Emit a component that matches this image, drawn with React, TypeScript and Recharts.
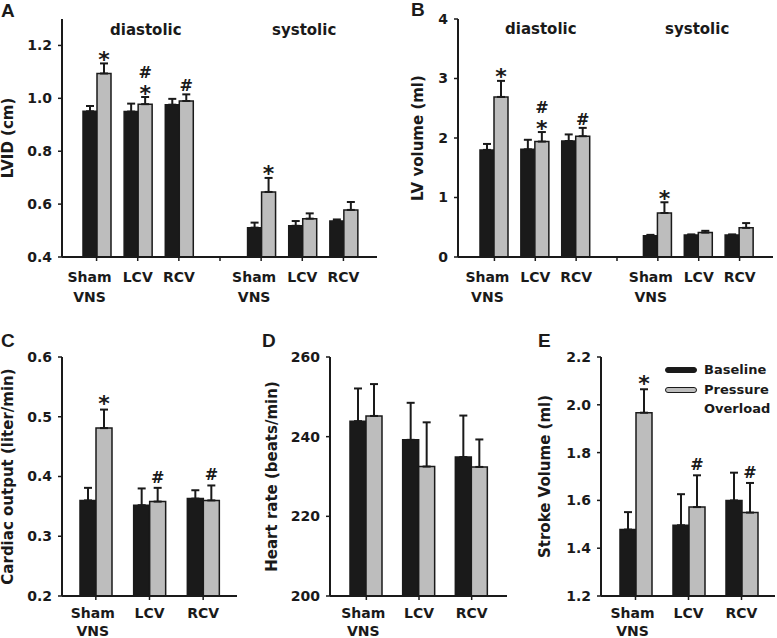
import { BarChart, Bar, XAxis, YAxis, ErrorBar, LabelList, Legend } from "recharts";

const FONT = '"DejaVu Sans", Verdana, sans-serif';
const LETTER_FONT = '"Liberation Sans", Arial, sans-serif';
const INK = "#1a1a1a";
const GREY = "#bdbdbd";

// A & B: diastolic groups | empty slot | systolic groups
const echoGroups = ["Sham", "LCV", "RCV", "", "Sham", "LCV", "RCV"];
const echoSub = ["VNS", "", "", "", "VNS", "", ""];
const hemoGroups = ["Sham", "LCV", "RCV"];
const hemoSub = ["VNS", "", ""];

// A: LVID (cm)
const lvidBase = [0.951, 0.95, 0.976, null, 0.511, 0.518, 0.536];
const lvidBaseErr = [0.02, 0.03, 0.022, null, 0.019, 0.018, 0.006];
const lvidPO = [1.094, 0.978, 0.99, null, 0.646, 0.545, 0.578];
const lvidPOErr = [0.038, 0.027, 0.025, null, 0.053, 0.02, 0.03];
const lvidMarks = ["*", "#*", "#", "", "*", "", ""];

// B: LV volume (ml)
const volBase = [1.8, 1.81, 1.95, null, 0.357, 0.37, 0.37];
const volBaseErr = [0.1, 0.16, 0.11, null, 0.015, 0.01, 0.01];
const volPO = [2.69, 1.94, 2.03, null, 0.74, 0.41, 0.49];
const volPOErr = [0.27, 0.16, 0.14, null, 0.18, 0.03, 0.08];
const volMarks = ["*", "#*", "#", "", "*", "", ""];

// C: cardiac output (liter/min)
const coBase = [0.36, 0.352, 0.363];
const coBaseErr = [0.021, 0.028, 0.014];
const coPO = [0.481, 0.358, 0.36];
const coPOErr = [0.031, 0.023, 0.025];
const coMarks = ["*", "#", "#"];

// D: heart rate (beats/min)
const hrBase = [243.9, 239.2, 234.9];
const hrBaseErr = [8.2, 9.3, 10.4];
const hrPO = [245.2, 232.5, 232.4];
const hrPOErr = [8.0, 11.1, 6.9];
const hrMarks = ["", "", ""];

// E: stroke volume (ml)
const svBase = [1.478, 1.496, 1.6];
const svBaseErr = [0.073, 0.13, 0.116];
const svPO = [1.967, 1.572, 1.549];
const svPOErr = [0.098, 0.133, 0.124];
const svMarks = ["*", "#", "#"];

type Row = {
  name: string;
  base: number | null;
  baseErr: number[] | null;
  po: number | null;
  poErr: number[] | null;
  mark: string;
};

function buildRows(names: string[], base: any[], baseErr: any[], po: any[], poErr: any[], marks: string[]): Row[] {
  return names.map((name, i) => ({
    name,
    base: base[i],
    baseErr: base[i] == null ? null : [0, baseErr[i]],
    po: po[i],
    poErr: po[i] == null ? null : [0, poErr[i]],
    mark: marks[i],
  }));
}

function GroupTick(props: any) {
  const { x, y, payload, index, sub, shamShift, nameDy, subDy } = props;
  const label = payload?.value ?? "";
  const dx = label === "Sham" ? shamShift : 0;
  return (
    <g>
      <text x={x + dx} y={y + nameDy} textAnchor="middle" fontFamily={FONT} fontWeight={700} fontSize={14} fill={INK}>
        {label}
      </text>
      {sub[index] ? (
        <text x={x + dx} y={y + subDy} textAnchor="middle" fontFamily={FONT} fontWeight={700} fontSize={14} fill={INK}>
          {sub[index]}
        </text>
      ) : null}
    </g>
  );
}

// significance marks sit above the error bar cap of the pressure-overload bar
function markContent(rows: Row[], min: number, lift: number) {
  const shown = rows.filter((r) => r.po != null);
  return (props: any) => {
    const v = props.value;
    const row: Row | undefined = v && typeof v === "object" ? v : shown[props.index];
    if (!row || !row.mark || row.po == null || !row.poErr) return null;
    const vb = props.viewBox ?? props;
    const { x, y, width, height } = vb;
    const per = Math.abs(height) / (row.po - min);
    const capY = y - row.poErr[1] * per - lift;
    const cx = x + width / 2;
    const glyphs = row.mark.split("");
    const out: any[] = [];
    let base = capY;
    for (let i = glyphs.length - 1; i >= 0; i--) {
      const g = glyphs[i];
      out.push(
        <text
          key={i}
          x={cx}
          y={g === "*" ? base + 3.5 : base - 3}
          textAnchor="middle"
          fontFamily={FONT}
          fontWeight={700}
          fontSize={g === "*" ? 22 : 16}
          fill={INK}
        >
          {g}
        </text>
      );
      base -= 16;
    }
    return <g>{out}</g>;
  };
}

function LegendBox(props: any) {
  const payload = props.payload || [];
  return (
    <div style={{ fontFamily: FONT, fontWeight: 700, fontSize: 13, color: INK, lineHeight: "19px" }}>
      {payload.map((p: any) => (
        <div key={p.value} style={{ display: "flex", alignItems: "flex-start", marginBottom: 1 }}>
          <span
            style={{
              display: "inline-block",
              width: 32,
              height: 6,
              marginTop: 7,
              borderRadius: 3,
              background: p.color,
              border: `1.5px solid ${INK}`,
              boxSizing: "border-box",
            }}
          />
          <span style={{ marginLeft: 7 }}>
            {String(p.value)
              .split(" ")
              .map((w) => (
                <div key={w}>{w}</div>
              ))}
          </span>
        </div>
      ))}
    </div>
  );
}

type PanelProps = {
  rows: Row[];
  sub: string[];
  left: number;
  top: number;
  width: number;
  height: number;
  margin: { top: number; right: number; bottom: number; left: number };
  xHeight: number;
  yWidth: number;
  domain: [number, number];
  ticks: number[];
  digits: number;
  yLabel: string;
  yLabelX: number;
  barSize: number;
  pad: { left: number; right: number };
  shamShift: number;
  nameDy: number;
  subDy: number;
  lift: number;
  legend?: boolean;
};

function Panel(p: PanelProps) {
  const axisLine = { stroke: INK, strokeWidth: 2 };
  return (
    <div style={{ position: "absolute", left: p.left, top: p.top }}>
      <BarChart width={p.width} height={p.height} data={p.rows} margin={p.margin} barGap={0} barSize={p.barSize}>
        <XAxis
          dataKey="name"
          interval={0}
          height={p.xHeight}
          padding={p.pad}
          tickSize={4}
          tickLine={{ stroke: INK, strokeWidth: 1.5 }}
          axisLine={axisLine}
          tick={(t: any) => (
            <GroupTick {...t} sub={p.sub} shamShift={p.shamShift} nameDy={p.nameDy} subDy={p.subDy} />
          )}
        />
        <XAxis xAxisId="top" dataKey="name" orientation="top" height={0} tick={false} tickLine={false} axisLine={axisLine} />
        <YAxis
          type="number"
          domain={p.domain}
          ticks={p.ticks}
          allowDataOverflow
          width={p.yWidth}
          tickSize={4}
          tickMargin={6}
          tickLine={{ stroke: INK, strokeWidth: 1.5 }}
          axisLine={axisLine}
          tickFormatter={(v: number) => v.toFixed(p.digits)}
          tick={{ fill: INK, fontFamily: FONT, fontWeight: 700, fontSize: 14 }}
          label={(lp: any) => {
            const vb = lp.viewBox || {};
            const cy = vb.y + vb.height / 2;
            return (
              <text
                x={p.yLabelX}
                y={cy}
                transform={`rotate(-90, ${p.yLabelX}, ${cy})`}
                textAnchor="middle"
                dominantBaseline="central"
                fontFamily={FONT}
                fontWeight={700}
                fontSize={15}
                fill={INK}
              >
                {p.yLabel}
              </text>
            );
          }}
        />
        <YAxis yAxisId="right" orientation="right" type="number" domain={p.domain} width={0} tick={false} tickLine={false} axisLine={axisLine} />
        <Bar dataKey="base" name="Baseline" fill={INK} stroke={INK} strokeWidth={1.5} isAnimationActive={false}>
          <ErrorBar dataKey="baseErr" direction="y" width={4} stroke={INK} strokeWidth={2} />
        </Bar>
        <Bar dataKey="po" name="Pressure Overload" fill={GREY} stroke={INK} strokeWidth={1.5} isAnimationActive={false}>
          <ErrorBar dataKey="poErr" direction="y" width={4} stroke={INK} strokeWidth={2} />
          <LabelList dataKey={(r: Row) => r as any} content={markContent(p.rows, p.domain[0], p.lift)} />
        </Bar>
        {p.legend ? (
          <Legend
            layout="vertical"
            align="center"
            verticalAlign="middle"
            content={<LegendBox />}
            wrapperStyle={{ left: 148, top: 30, width: "auto" }}
          />
        ) : null}
      </BarChart>
    </div>
  );
}

const lvidRows = buildRows(echoGroups, lvidBase, lvidBaseErr, lvidPO, lvidPOErr, lvidMarks);
const volRows = buildRows(echoGroups, volBase, volBaseErr, volPO, volPOErr, volMarks);
const coRows = buildRows(hemoGroups, coBase, coBaseErr, coPO, coPOErr, coMarks);
const hrRows = buildRows(hemoGroups, hrBase, hrBaseErr, hrPO, hrPOErr, hrMarks);
const svRows = buildRows(hemoGroups, svBase, svBaseErr, svPO, svPOErr, svMarks);

const txt = (x: number, y: number, s: string, size = 15, family = FONT) => (
  <div
    style={{
      position: "absolute",
      left: x,
      top: y,
      fontFamily: family,
      fontWeight: 700,
      fontSize: size,
      color: INK,
      lineHeight: 1,
      whiteSpace: "nowrap",
    }}
  >
    {s}
  </div>
);

export default function App() {
  return (
    <div style={{ position: "absolute", left: 0, top: 0, width: 777, height: 638, background: "#fff", overflow: "hidden" }}>
      <Panel
        rows={lvidRows}
        sub={echoSub}
        left={0}
        top={0}
        width={390}
        height={320}
        margin={{ top: 19, right: 13, bottom: 3, left: 0 }}
        xHeight={60}
        yWidth={62}
        domain={[0.4, 1.3]}
        ticks={[0.4, 0.6, 0.8, 1.0, 1.2]}
        digits={1}
        yLabel="LVID (cm)"
        yLabelX={8}
        barSize={14}
        pad={{ left: 14, right: 13 }}
        shamShift={-7}
        nameDy={18.5}
        subDy={39}
        lift={0}
      />
      <Panel
        rows={volRows}
        sub={echoSub}
        left={390}
        top={0}
        width={387}
        height={320}
        margin={{ top: 19, right: 4, bottom: 3, left: 0 }}
        xHeight={60}
        yWidth={68}
        domain={[0, 4]}
        ticks={[0, 1, 2, 3, 4]}
        digits={0}
        yLabel="LV volume (ml)"
        yLabelX={28}
        barSize={14}
        pad={{ left: 16, right: 13 }}
        shamShift={-7}
        nameDy={18.5}
        subDy={39}
        lift={0}
      />
      <Panel
        rows={coRows}
        sub={hemoSub}
        left={0}
        top={330}
        width={260}
        height={308}
        margin={{ top: 27, right: 23, bottom: 0, left: 0 }}
        xHeight={42}
        yWidth={62}
        domain={[0.2, 0.6]}
        ticks={[0.2, 0.3, 0.4, 0.5, 0.6]}
        digits={1}
        yLabel="Cardiac output (liter/min)"
        yLabelX={8}
        barSize={16}
        pad={{ left: 7, right: 7 }}
        shamShift={-3}
        nameDy={16}
        subDy={33.5}
        lift={2}
      />
      <Panel
        rows={hrRows}
        sub={hemoSub}
        left={260}
        top={330}
        width={260}
        height={308}
        margin={{ top: 27, right: 13, bottom: 0, left: 0 }}
        xHeight={42}
        yWidth={70}
        domain={[200, 260]}
        ticks={[200, 220, 240, 260]}
        digits={0}
        yLabel="Heart rate (beats/min)"
        yLabelX={12}
        barSize={16}
        pad={{ left: 10, right: 9 }}
        shamShift={-3}
        nameDy={16}
        subDy={33.5}
        lift={2}
      />
      <Panel
        rows={svRows}
        sub={hemoSub}
        left={517}
        top={330}
        width={260}
        height={308}
        margin={{ top: 27, right: 2, bottom: 0, left: 0 }}
        xHeight={42}
        yWidth={84}
        domain={[1.2, 2.2]}
        ticks={[1.2, 1.4, 1.6, 1.8, 2.0, 2.2]}
        digits={1}
        yLabel="Stroke Volume (ml)"
        yLabelX={28}
        barSize={16}
        pad={{ left: 8, right: 7 }}
        shamShift={-3}
        nameDy={16}
        subDy={33.5}
        lift={2}
        legend
      />
      {txt(1, 1, "A", 19, LETTER_FONT)}
      {txt(411, 0, "B", 19, LETTER_FONT)}
      {txt(1, 331, "C", 19, LETTER_FONT)}
      {txt(262, 331, "D", 19, LETTER_FONT)}
      {txt(538, 331, "E", 19, LETTER_FONT)}
      {txt(110, 23, "diastolic")}
      {txt(272, 23, "systolic")}
      {txt(505, 22, "diastolic")}
      {txt(665, 22, "systolic")}
    </div>
  );
}
